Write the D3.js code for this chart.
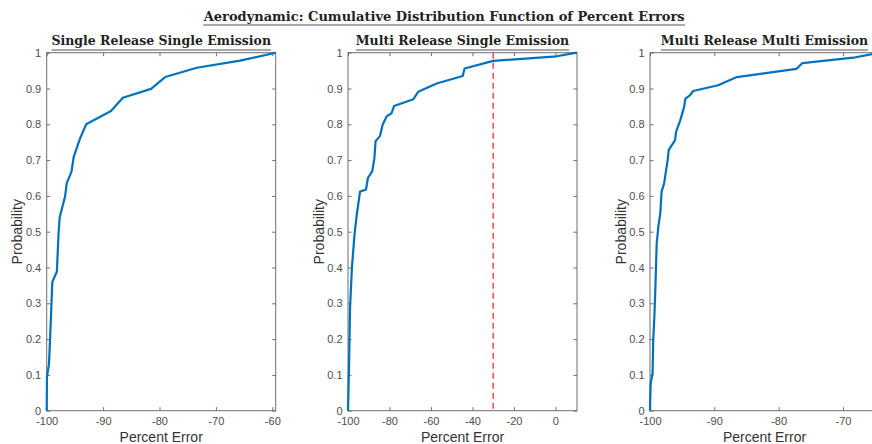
<!DOCTYPE html>
<html>
<head>
<meta charset="utf-8">
<script src="https://cdn.jsdelivr.net/npm/d3@7"></script>
<style>
    body { margin: 0; background: #fff; }
    svg { display: block; }
    .tick line { stroke: #6e6e6e; }
    .tick text { fill: #4d4d4d; font-family: "Liberation Sans", Arial, sans-serif; font-size: 11px; }
    .title { font-family: "DejaVu Serif", serif; font-weight: bold; fill: #222; }
    .label { font-family: "Liberation Sans", Arial, sans-serif; font-size: 14px; fill: #333; }
</style>
</head>
<body>
<svg id="chart" width="872" height="444"></svg>
<script>
/* global d3*/
// titels
var mainTitle = "Aerodynamic: Cumulative Distribution Function of Percent Errors";
var panelTitles = ["Single Release Single Emission", "Multi Release Single Emission", "Multi Release Multi Emission"];

// Single Release Single Emission
var ssseError = [-100, -99.95, -99.6, -99.4, -99.0, -98.2, -97.9, -97.7, -96.75, -96.45, -95.6, -95.2, -94.1, -93.0, -88.6, -86.5, -81.5, -79.0, -73.4, -65.7, -59.4];
var ssseProb = [0, 0.095, 0.13, 0.2, 0.36, 0.388, 0.495, 0.54, 0.598, 0.635, 0.668, 0.71, 0.76, 0.80, 0.837, 0.874, 0.899, 0.932, 0.958, 0.978, 1.0];

// Multi Release Single Emission
var msseError = [-100, -99.5, -99.0, -98.1, -96.9, -95.8, -94.2, -91.3, -90.4, -88.3, -87.3, -86.7, -84.6, -83.3, -81.4, -79.0, -77.8, -68.5, -66.1, -57.3, -44.7, -43.8, -30.0, 0.6, 10.4];
var msseProb = [0, 0.123, 0.29, 0.40, 0.49, 0.546, 0.612, 0.618, 0.65, 0.669, 0.704, 0.753, 0.767, 0.799, 0.822, 0.831, 0.851, 0.87, 0.891, 0.914, 0.935, 0.956, 0.977, 0.99, 1.0];

// Multi Release Multi Emission
var mrmeError = [-100, -99.9, -99.6, -99.5, -99.3, -99.1, -98.96, -98.7, -98.4, -98.2, -97.8, -97.5, -97.25, -97.1, -96.1, -95.95, -95.3, -94.7, -94.5, -93.8, -93.3, -89.4, -86.5, -77.2, -76.3, -68.4, -64.4];
var mrmeProb = [0, 0.076, 0.104, 0.197, 0.27, 0.38, 0.467, 0.514, 0.551, 0.612, 0.635, 0.672, 0.7, 0.728, 0.756, 0.779, 0.811, 0.848, 0.872, 0.881, 0.893, 0.909, 0.932, 0.955, 0.971, 0.986, 1.0];

// as-ticks
var probTicks = [0, 0.1, 0.2, 0.3, 0.4, 0.5, 0.6, 0.7, 0.8, 0.9, 1];
var ssseTicks = [-100, -90, -80, -70, -60];
var msseTicks = [-100, -80, -60, -40, -20, 0];
var mrmeTicks = [-100, -90, -80, -70];

// rode stippellijn in de middelste grafiek
var msseMarker = -30;

var panels = [
    { title: panelTitles[0], error: ssseError, prob: ssseProb, ticks: ssseTicks },
    { title: panelTitles[1], error: msseError, prob: msseProb, ticks: msseTicks, marker: msseMarker },
    { title: panelTitles[2], error: mrmeError, prob: mrmeProb, ticks: mrmeTicks }
];

var svg = d3.select("#chart"),
    lefts = [46.7, 348, 650],
    plotWidth = 229,
    plotTop = 52.7,
    plotBottom = 410.7,
    plotHeight = plotBottom - plotTop;

function plain(d) {
    return String(d);
}

// hoofdtitel met onderstreping
svg.append("text")
    .attr("class", "title")
    .attr("x", 444.2)
    .attr("y", 20.7)
    .attr("text-anchor", "middle")
    .attr("textLength", 481)
    .attr("lengthAdjust", "spacingAndGlyphs")
    .style("font-size", "13px")
    .text(mainTitle);
svg.append("line")
    .attr("x1", 203.3).attr("x2", 685)
    .attr("y1", 25).attr("y2", 25)
    .attr("stroke", "#555").attr("stroke-width", 1.2);

panels.forEach(function (p, i) {
    var x = d3.scaleLinear()
        .domain([p.error[0], p.error[p.error.length - 1]])
        .range([0, plotWidth]);
    var y = d3.scaleLinear().domain([0, 1]).range([plotHeight, 0]);

    var g = svg.append("g")
        .attr("transform", "translate(" + lefts[i] + "," + plotTop + ")");

    g.append("g")
        .attr("transform", "translate(0," + plotHeight + ")")
        .call(d3.axisBottom(x).tickValues(p.ticks).tickSizeInner(-3.5).tickSizeOuter(0).tickPadding(6.7).tickFormat(plain))
        .call(function (a) { a.select(".domain").remove(); });

    g.append("g")
        .call(d3.axisTop(x).tickValues(p.ticks).tickSizeInner(-3.5).tickSizeOuter(0).tickFormat(""))
        .call(function (a) { a.select(".domain").remove(); });

    g.append("g")
        .call(d3.axisLeft(y).tickValues(probTicks).tickSizeInner(-3.5).tickSizeOuter(0).tickPadding(5.5).tickFormat(plain))
        .call(function (a) { a.select(".domain").remove(); });

    g.append("g")
        .attr("transform", "translate(" + plotWidth + ",0)")
        .call(d3.axisRight(y).tickValues(probTicks).tickSizeInner(-3.5).tickSizeOuter(0).tickFormat(""))
        .call(function (a) { a.select(".domain").remove(); });

    g.append("rect")
        .attr("width", plotWidth)
        .attr("height", plotHeight)
        .attr("fill", "none")
        .attr("stroke", "#6e6e6e")
        .attr("stroke-width", 1);

    if (p.marker !== undefined) {
        g.append("line")
            .attr("x1", x(p.marker)).attr("x2", x(p.marker))
            .attr("y1", 0).attr("y2", plotHeight)
            .attr("stroke", "#ff3b3b")
            .attr("stroke-width", 1.4)
            .attr("stroke-dasharray", "6,4");
    }

    var pts = p.error.map(function (e, j) { return [e, p.prob[j]]; });
    g.append("path")
        .datum(pts)
        .attr("fill", "none")
        .attr("stroke", "#0072BD")
        .attr("stroke-width", 2.2)
        .attr("stroke-linejoin", "round")
        .attr("d", d3.line()
            .x(function (d) { return x(d[0]); })
            .y(function (d) { return y(d[1]); }));

    // subtitel met onderstreping
    var st = g.append("text")
        .attr("class", "title")
        .attr("x", plotWidth / 2)
        .attr("y", -7.7)
        .attr("text-anchor", "middle")
        .style("font-size", "12.5px")
        .text(p.title);
    var sw = st.node().getComputedTextLength();
    g.append("line")
        .attr("x1", plotWidth / 2 - sw / 2).attr("x2", plotWidth / 2 + sw / 2)
        .attr("y1", -2.7).attr("y2", -2.7)
        .attr("stroke", "#555").attr("stroke-width", 1.2);

    g.append("text")
        .attr("class", "label")
        .attr("text-anchor", "middle")
        .attr("transform", "translate(-24.5," + plotHeight / 2 + ") rotate(-90)")
        .text("Probability");

    g.append("text")
        .attr("class", "label")
        .attr("text-anchor", "middle")
        .attr("x", plotWidth / 2)
        .attr("y", plotHeight + 31.5)
        .text("Percent Error");
});
</script>
</body>
</html>
